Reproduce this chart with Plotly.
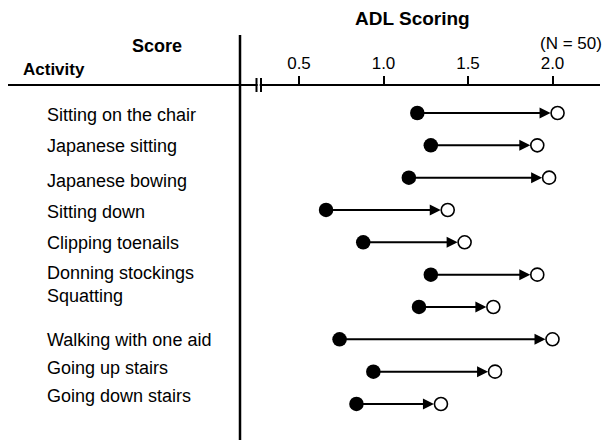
import plotly.graph_objects as go

activities = ["Sitting on the chair", "Japanese sitting", "Japanese bowing", "Sitting down",
              "Clipping toenails", "Donning stockings", "Squatting", "Walking with one aid",
              "Going up stairs", "Going down stairs"]
score_before = [1.20, 1.28, 1.15, 0.66, 0.88, 1.28, 1.21, 0.74, 0.94, 0.84]
score_after = [2.03, 1.91, 1.98, 1.38, 1.48, 1.91, 1.65, 2.00, 1.66, 1.34]
tick_vals = [0.5, 1.0, 1.5, 2.0]
tick_text = ["0.5", "1.0", "1.5", "2.0"]

W, H = 613, 445
FONT = "Liberation Sans, Arial, Helvetica, sans-serif"
rows = list(range(len(activities)))
label_shift = [2, 1, 3, 2, 1, -2, -11, 1, -4, -8]  # layout nudges (px, down) for label text

# x mapping: value 0 at 214.5px, 169px per unit
px0, ppu = 214.5, 169.0
xr = [-px0 / ppu, (W - px0) / ppu]
# y mapping: row 0 at 113px, 32.33px per row
py0, ppr = 113.0, 32.33
yr = [(H - py0) / ppr, -py0 / ppr]

fig = go.Figure()

fig.add_trace(go.Scatter(x=score_before, y=rows, mode="markers",
                         marker=dict(size=14.5, color="black", line=dict(width=0)),
                         showlegend=False, hoverinfo="skip"))
fig.add_trace(go.Scatter(x=score_after, y=rows, mode="markers",
                         marker=dict(size=13, color="white", line=dict(width=1.6, color="black")),
                         showlegend=False, hoverinfo="skip"))

ann = []
for r, b, a in zip(rows, score_before, score_after):
    ann.append(dict(x=a, y=r, ax=b, ay=r, xref="x", yref="y", axref="x", ayref="y",
                    text="", showarrow=True, arrowhead=2, arrowsize=1.1, arrowwidth=2,
                    arrowcolor="black", standoff=7, startstandoff=4))
for r, name, s in zip(rows, activities, label_shift):
    ann.append(dict(x=45 / W, y=r, xref="paper", yref="y", text=name, showarrow=False,
                    xanchor="left", yanchor="middle", yshift=-s,
                    font=dict(family=FONT, size=18, color="black")))

ann.append(dict(x=412 / W, y=1 - 18 / H, xref="paper", yref="paper", text="<b>ADL Scoring</b>",
                showarrow=False, xanchor="center", yanchor="middle",
                font=dict(family=FONT, size=19, color="black")))
ann.append(dict(x=184 / W, y=1 - 46 / H, xref="paper", yref="paper", text="<b>Score</b>",
                showarrow=False, xanchor="right", yanchor="middle",
                font=dict(family=FONT, size=18, color="black")))
ann.append(dict(x=21 / W, y=1 - 70 / H, xref="paper", yref="paper", text="<b>Activity</b>",
                showarrow=False, xanchor="left", yanchor="middle",
                font=dict(family=FONT, size=17, color="black")))
ann.append(dict(x=604 / W, y=1 - 43 / H, xref="paper", yref="paper", text="(N = 50)",
                showarrow=False, xanchor="right", yanchor="middle",
                font=dict(family=FONT, size=17, color="black")))

shapes = [
    # horizontal axis line
    dict(type="line", xref="paper", yref="paper", x0=8 / W, x1=600 / W,
         y0=1 - 85 / H, y1=1 - 85 / H, line=dict(color="black", width=2.2)),
    # vertical divider
    dict(type="line", xref="paper", yref="paper", x0=240 / W, x1=240 / W,
         y0=1 - 35 / H, y1=1 - 440 / H, line=dict(color="black", width=2.5)),
    # axis break marks
    dict(type="line", xref="paper", yref="paper", x0=256.5 / W, x1=256.5 / W,
         y0=1 - 78 / H, y1=1 - 92 / H, line=dict(color="black", width=2)),
    dict(type="line", xref="paper", yref="paper", x0=261 / W, x1=261 / W,
         y0=1 - 78 / H, y1=1 - 92 / H, line=dict(color="black", width=2)),
    dict(type="line", xref="paper", yref="paper", x0=257.8 / W, x1=259.7 / W,
         y0=1 - 85 / H, y1=1 - 85 / H, line=dict(color="white", width=3)),
]

fig.update_layout(
    width=W, height=H, margin=dict(l=0, r=0, t=0, b=0),
    paper_bgcolor="white", plot_bgcolor="white",
    xaxis=dict(range=xr, domain=[0, 1], anchor="free", position=1 - 85 / H, side="top",
               showline=False, showgrid=False, zeroline=False,
               tickvals=tick_vals, ticktext=tick_text, ticks="outside", ticklen=9,
               tickwidth=2, tickcolor="black",
               tickfont=dict(family=FONT, size=17, color="black")),
    yaxis=dict(range=yr, domain=[0, 1], visible=False, showgrid=False, zeroline=False),
    annotations=ann, shapes=shapes,
)

fig.write_html("out.html", config={"displayModeBar": False},
               post_script="document.body.style.margin='0';")
